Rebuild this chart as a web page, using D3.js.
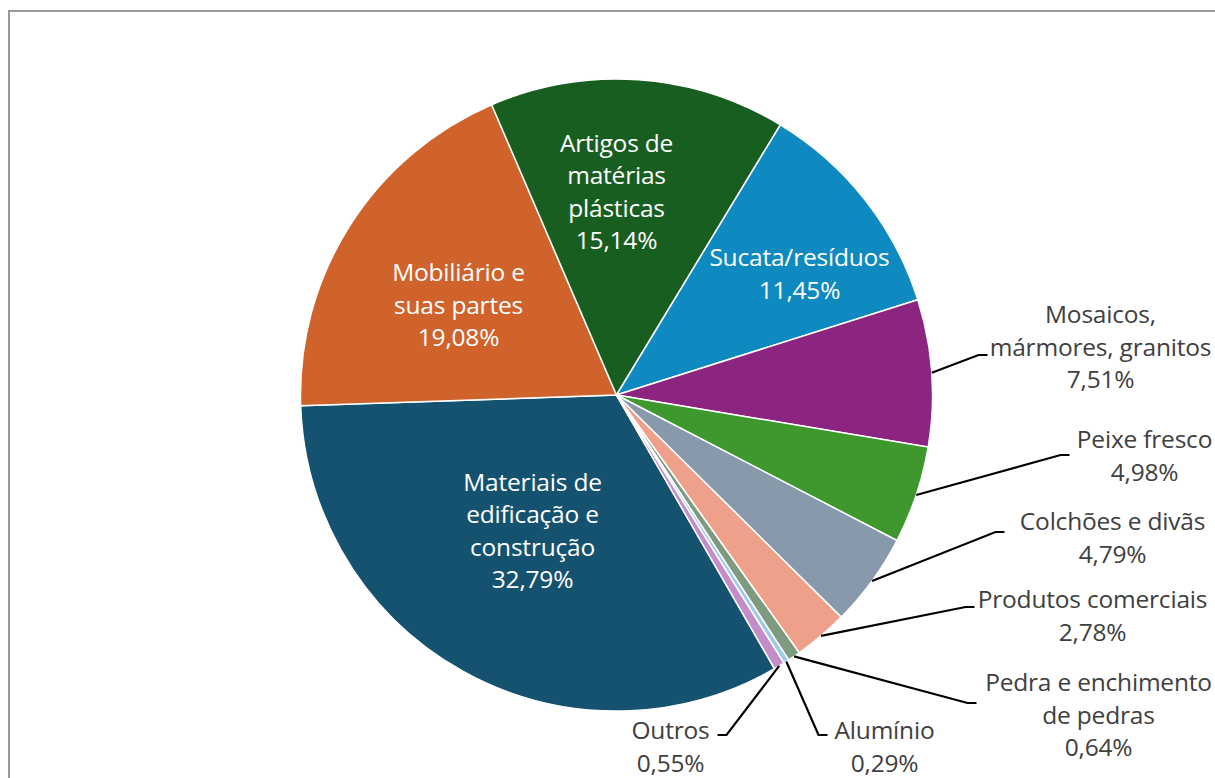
<!DOCTYPE html>
<html>
<head>
<meta charset="utf-8">
<script src="https://cdn.jsdelivr.net/npm/d3@7"></script>
<style>
  html, body { margin: 0; padding: 0; background: #fff; }
  svg { display: block; }
</style>
</head>
<body>
<svg id="chart" width="1215" height="778"></svg>
<script>
// data, in the order Excel draws it (clockwise from first slice angle)
const categories = [
  "Materiais de edificação e construção",
  "Mobiliário e suas partes",
  "Artigos de matérias plásticas",
  "Sucata/resíduos",
  "Mosaicos, mármores, granitos",
  "Peixe fresco",
  "Colchões e divãs",
  "Produtos comerciais",
  "Pedra e enchimento de pedras",
  "Alumínio",
  "Outros"
];
const shares = [32.79, 19.08, 15.14, 11.45, 7.51, 4.98, 4.79, 2.78, 0.64, 0.29, 0.55];
const colors = ["#155270", "#d0622b", "#195e21", "#0f8ac0", "#8b2580", "#3f982e",
                "#8799aa", "#eea08a", "#7e9b7f", "#9ecbea", "#c38dc9"];
// how each label is broken into lines
const labelLines = [
  ["Materiais de", "edificação e", "construção"],
  ["Mobiliário e", "suas partes"],
  ["Artigos de", "matérias", "plásticas"],
  ["Sucata/resíduos"],
  ["Mosaicos,", "mármores, granitos"],
  ["Peixe fresco"],
  ["Colchões e divãs"],
  ["Produtos comerciais"],
  ["Pedra e enchimento", "de pedras"],
  ["Alumínio"],
  ["Outros"]
];

const width = 1215, height = 778;
const cx = 616.5, cy = 395, radius = 316;
const firstSliceAngle = 150;
const lineH = 32.5;
const fmt = v => d3.format(".2f")(v).replace(".", ",") + "%";

// label layout (relative to pie centre): inside labels are nudged off the
// centroid, outside ones get a leader elbow and a text block centre
const layout = {
  0: { inside: true, x: -84, y: 136 },
  1: { inside: true, x: -158, y: -90 },
  2: { inside: true, x: 0, y: -203 },
  3: { inside: true, x: 183, y: -121 },
  4: { elbow: [362, -40], side: 1, x: 484, y: -48 },
  5: { elbow: [444, 60], side: 1, x: 528, y: 61 },
  6: { elbow: [379, 137], side: 1, x: 496, y: 143 },
  7: { elbow: [349, 212], side: 1, x: 476, y: 221 },
  8: { elbow: [351, 308], side: 1, x: 482, y: 320 },
  9: { elbow: [202, 340], side: 1, x: 268, y: 352 },
  10: { elbow: [110, 340], side: -1, x: 54, y: 352 }
};

const svg = d3.select("#chart");

svg.append("rect")
  .attr("x", 9).attr("y", 11)
  .attr("width", width + 20).attr("height", height + 20)
  .attr("fill", "none")
  .attr("stroke", "#999")
  .attr("stroke-width", 2);

const pie = d3.pie()
  .sort(null)
  .value(d => d)
  .startAngle(firstSliceAngle * Math.PI / 180)
  .endAngle(firstSliceAngle * Math.PI / 180 + 2 * Math.PI);

const arc = d3.arc().innerRadius(0).outerRadius(radius);
const arcs = pie(shares);

const g = svg.append("g").attr("transform", `translate(${cx},${cy})`);

g.selectAll("path.slice")
  .data(arcs)
  .join("path")
  .attr("class", "slice")
  .attr("d", arc)
  .attr("fill", (d, i) => colors[i])
  .attr("stroke", "#fff")
  .attr("stroke-width", 1.5);

const edge = d3.arc().innerRadius(radius).outerRadius(radius);

// leader lines
g.selectAll("path.leader")
  .data(arcs.filter((d, i) => !layout[i].inside))
  .join("path")
  .attr("class", "leader")
  .attr("d", d => {
    const L = layout[d.index];
    const p = edge.centroid(d);
    const end = [L.elbow[0] + 9 * L.side, L.elbow[1]];
    return d3.line()([p, L.elbow, end]);
  })
  .attr("fill", "none")
  .attr("stroke", "#000")
  .attr("stroke-width", 2.2);

// labels
const labels = g.selectAll("text.label")
  .data(arcs)
  .join("text")
  .attr("class", "label")
  .attr("text-anchor", "middle")
  .attr("font-family", "'Open Sans', sans-serif")
  .attr("font-size", 24.5)
  .attr("letter-spacing", "-0.2px")
  .attr("fill", (d, i) => layout[i].inside ? "#fff" : "#404040");

labels.each(function (d, i) {
  const L = layout[i];
  const lines = labelLines[i].concat([fmt(shares[i])]);
  const y0 = L.y - (lines.length - 1) * lineH / 2;
  d3.select(this).selectAll("tspan")
    .data(lines)
    .join("tspan")
    .attr("x", L.x)
    .attr("y", (t, k) => y0 + k * lineH)
    .attr("dy", "0.35em")
    .text(t => t);
});
</script>
</body>
</html>
